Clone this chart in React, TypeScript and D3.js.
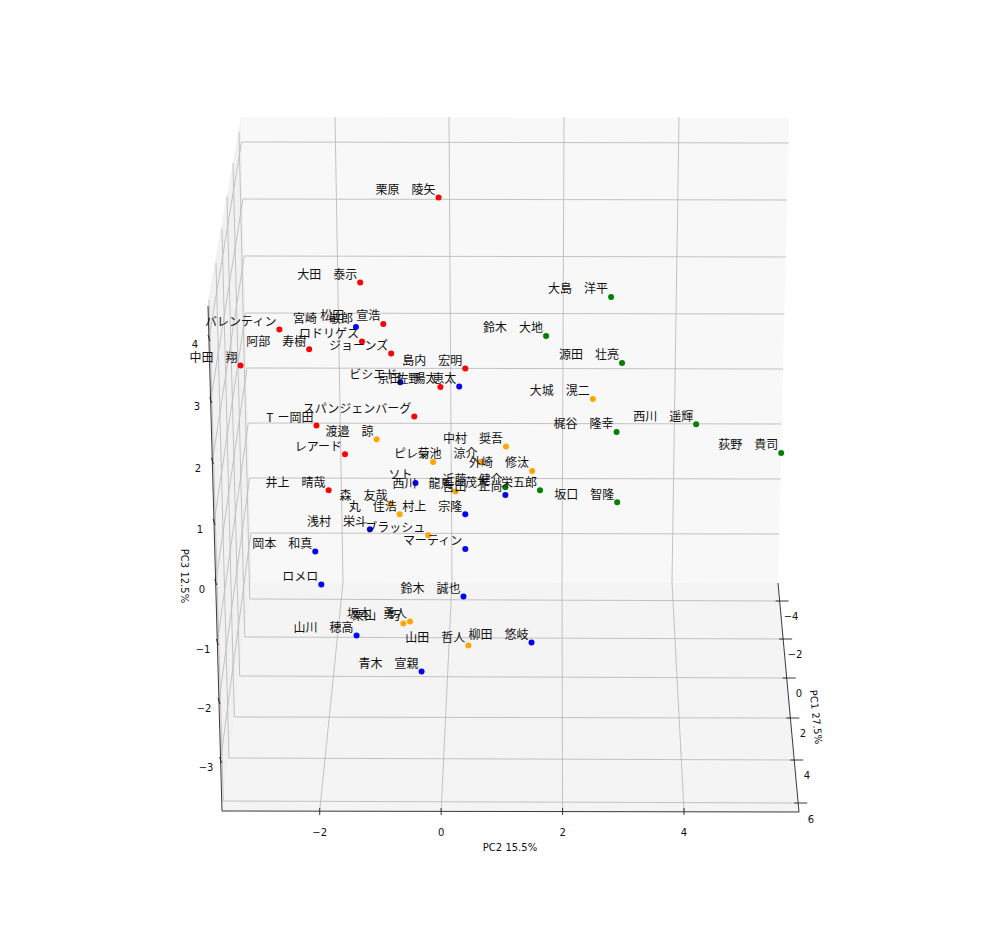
import React from "react";
import * as d3 from "d3";

// Player names and their position in the picture plane, in PC2 / PC3 units as seen on screen.
const names = [
  "栗原　陵矢","大田　泰示","大島　洋平","鈴木　大地","源田　壮亮","バレンティン","宮崎　敏郎","松田　宣浩","ロドリゲス","阿部　寿樹",
  "ジョーンズ","中田　翔","島内　宏明","ビシエド","京田　陽太","佐野　恵太","大城　滉二","スパンジェンバーグ","Tー岡田","渡邉　諒",
  "梶谷　隆幸","西川　遥輝","荻野　貴司","中村　奨吾","レアード","ピレラ","菊池　涼介","外崎　修汰","ソト","西川　龍馬",
  "近藤　健介","吉田　正尚","茂木　栄五郎","坂口　智隆","井上　晴哉","森　友哉","丸　佳浩","村上　宗隆","浅村　栄斗","ブラッシュ",
  "マーティン","岡本　和真","ロメロ","鈴木　誠也","坂本　勇人","栗山　巧","山川　穂高","柳田　悠岐","山田　哲人","青木　宣親",
];
const pc2 = [
  -0.04,-1.33,2.80,1.73,2.98,-2.66,-1.40,-0.95,-1.30,-2.17,
  -0.82,-3.30,0.40,-0.67,-0.01,0.30,2.50,-0.44,-2.05,-1.06,
  2.89,4.20,5.60,1.07,-1.58,-0.13,0.65,1.50,-0.42,0.24,
  1.06,1.06,1.63,2.90,-1.85,-0.83,-0.68,0.40,-1.17,-0.21,
  0.40,-2.07,-1.97,0.37,-0.51,-0.62,-1.39,1.49,0.45,-0.32,
];
const pc3 = [
  6.41,4.99,4.75,4.10,3.65,4.21,4.25,4.30,4.01,3.88,
  3.81,3.61,3.56,3.33,3.25,3.26,3.05,2.76,2.61,2.38,
  2.50,2.63,2.15,2.26,2.13,2.00,2.00,1.85,1.65,1.51,
  1.58,1.45,1.53,1.33,1.53,1.30,1.13,1.13,0.88,0.78,
  0.55,0.51,-0.04,-0.24,-0.66,-0.69,-0.89,-1.01,-1.06,-1.49,
];
const groups = "r r g g g r b r r r r r r b r b o r r o g g g o r o o o b o g b g g r o o b b o b b b b o o b b o b".split(" ");
const groupColor: Record<string, string> = { r: "#ff0000", b: "#0000ff", g: "#008000", o: "#ffa500" };

const pc2Ticks = [-2, 0, 2, 4];
const pc3Ticks = [-3, -2, -1, 0, 1, 2, 3, 4];
const pc1Ticks = [-4, -2, 0, 2, 4, 6];

// Projection calibration: the box seen in perspective, one scale per box edge.
const xFront = d3.scaleLinear().domain([-2, 4]).range([319.7, 684]);
const xBackFloor = d3.scaleLinear().domain([-2, 0, 2, 4]).range([343, 452, 562, 672]);
const xBackTop = d3.scaleLinear().domain([-2, 0, 2, 4]).range([335, 449, 564, 679]);
const zBack = d3.scaleLinear().domain(pc3Ticks).range([533, 478, 423, 368, 313, 256, 199, 142]);
const zFront = d3.scaleLinear().domain(pc3Ticks).range([760, 701, 642, 582, 522, 461, 400, 338]);
const zLabelY = d3.scaleLinear().domain(pc3Ticks).range([767, 708, 649, 589, 529, 468, 406, 344]);
const zLabelX = d3.scaleLinear().domain(pc3Ticks).range([206, 204, 203, 202, 200, 198, 197, 195]);
const floorLeftY = d3.scaleLinear().domain(pc1Ticks).range([599, 637, 676, 717, 758, 801]);
const floorRightY = d3.scaleLinear().domain(pc1Ticks).range([601, 639, 678, 718, 760, 803]);
const wallTopY = d3.scaleLinear().domain(pc1Ticks).range([132, 163, 196, 229, 263, 300]);
const wallTopX = d3.scaleLinear().domain(pc1Ticks).range([239, 233, 227, 222, 216, 209]);
const pc1LabelX = d3.scaleLinear().domain(pc1Ticks).range([791, 795, 799, 803, 807, 811]);
const pc1LabelY = d3.scaleLinear().domain(pc1Ticks).range([616, 654, 693, 733, 775, 819]);

// Points of the picture plane
const px = d3.scaleLinear().domain([-2, 4]).range([319.5, 684]);
const py = d3.scaleLinear().domain([-3, 4]).range([762, 342]);

// Box corners
const BTL: [number, number] = [241, 117];
const BTR: [number, number] = [789, 118];
const BBR: [number, number] = [778, 583];
const BBL: [number, number] = [252, 582];
const FBR: [number, number] = [799, 812];
const FBL: [number, number] = [222, 811];
const FTL: [number, number] = [208, 300];

const along = (a: [number, number], b: [number, number], y: number) =>
  a[0] + ((y - a[1]) / (b[1] - a[1])) * (b[0] - a[0]);
const poly = (pts: [number, number][]) => pts.map((p) => p.join(",")).join(" ");

const GRID = "#bcbcbc";
const AXIS = "#222222";
const tickFont = { fontFamily: "'DejaVu Sans'", fontSize: 10, fill: "#111" } as const;

export default function App() {
  return (
    <svg width={998} height={936} style={{ position: "absolute", left: 0, top: 0, background: "#fff" }}>
      <polygon points={poly([BTL, FTL, FBL, BBL])} fill="#f1f1f1" />
      <polygon points={poly([BTL, BTR, BBR, BBL])} fill="#f8f8f8" />
      <polygon points={poly([BBL, BBR, FBR, FBL])} fill="#f4f4f4" />

      <g stroke={GRID} strokeWidth={0.9} fill="none">
        {pc2Ticks.map((t) => (
          <polyline key={"x" + t} points={poly([[xFront(t), 811], [xBackFloor(t), 582], [xBackTop(t), 117]])} />
        ))}
        {pc3Ticks.map((t) => (
          <polyline
            key={"z" + t}
            points={poly([
              [along(FTL, FBL, zFront(t)), zFront(t)],
              [along(BTL, BBL, zBack(t)), zBack(t)],
              [along(BTR, BBR, zBack(t)), zBack(t) + 1],
            ])}
          />
        ))}
        {pc1Ticks.map((t) => (
          <polyline
            key={"y" + t}
            points={poly([
              [wallTopX(t), wallTopY(t)],
              [along(BBL, FBL, floorLeftY(t)), floorLeftY(t)],
              [along(BBR, FBR, floorRightY(t)), floorRightY(t)],
            ])}
          />
        ))}
      </g>

      <g stroke={AXIS} strokeWidth={0.9} fill="none">
        <line x1={FBL[0]} y1={FBL[1]} x2={FBR[0]} y2={FBR[1]} />
        <line x1={BBR[0]} y1={BBR[1]} x2={FBR[0]} y2={FBR[1]} />
        <line x1={FTL[0]} y1={FTL[1] + 6} x2={FBL[0]} y2={FBL[1]} />
        {pc2Ticks.map((t) => (
          <line key={t} x1={xFront(t)} y1={808} x2={xFront(t)} y2={815} />
        ))}
        {pc1Ticks.map((t) => {
          const x = along(BBR, FBR, floorRightY(t));
          return <line key={t} x1={x - 4} y1={floorRightY(t)} x2={x + 9} y2={floorRightY(t)} />;
        })}
        {pc3Ticks.map((t) => {
          const x = along(FTL, FBL, zFront(t));
          return <line key={t} x1={x - 1} y1={zFront(t) - 3} x2={x + 1} y2={zFront(t) + 3} />;
        })}
      </g>

      <g {...tickFont} textAnchor="middle" dominantBaseline="central">
        {pc2Ticks.map((t) => (
          <text key={t} x={xFront(t)} y={832}>{String(t).replace("-", "−")}</text>
        ))}
        {pc3Ticks.map((t) => (
          <text key={t} x={zLabelX(t)} y={zLabelY(t)}>{String(t).replace("-", "−")}</text>
        ))}
        {pc1Ticks.map((t) => (
          <text key={t} x={pc1LabelX(t)} y={pc1LabelY(t)}>{String(t).replace("-", "−")}</text>
        ))}
        <text x={510} y={847}>PC2 15.5%</text>
        <text transform="translate(184,576) rotate(90)">PC3 12.5%</text>
        <text transform="translate(816,717) rotate(84)">PC1 27.5%</text>
      </g>

      <g>
        {names.map((n, i) => (
          <circle key={n} cx={px(pc2[i])} cy={py(pc3[i])} r={3} fill={groupColor[groups[i]]} />
        ))}
      </g>
      <g fontFamily="'Noto Sans CJK JP'" fontSize={12} fill="#111" textAnchor="end">
        {names.map((n, i) => (
          <text key={n} x={px(pc2[i]) - 3} y={py(pc3[i]) - 3.6}>
            {n.startsWith("T") ? (
              <>T<tspan dx={4}>{n.slice(1)}</tspan></>
            ) : (
              n
            )}
          </text>
        ))}
      </g>
    </svg>
  );
}
